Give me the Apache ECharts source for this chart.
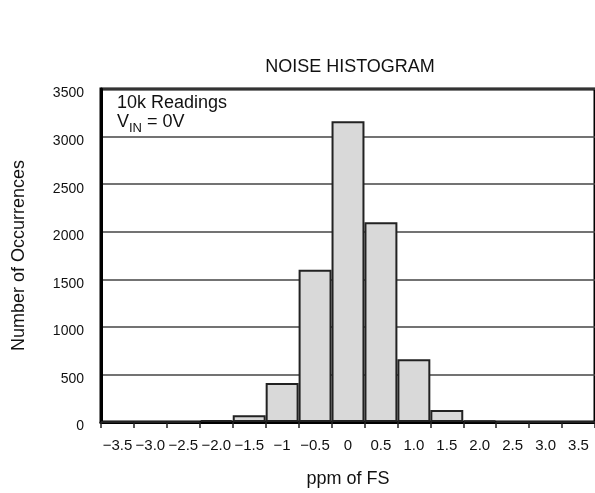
<!DOCTYPE html>
<html>
<head>
<meta charset="utf-8">
<script src="https://cdn.jsdelivr.net/npm/echarts@6/dist/echarts.min.js"></script>
<style>
  html, body { margin: 0; padding: 0; background: #fff; }
  #chart { width: 595px; height: 493px; }
</style>
</head>
<body>
<div id="chart"></div>
<script>
// Histogram bins (ppm of FS), bin centres used as category labels
const binLabels = ['\u22123.5', '\u22123.0', '\u22122.5', '\u22122.0', '\u22121.5', '\u22121', '\u22120.5',
                   '0', '0.5', '1.0', '1.5', '2.0', '2.5', '3.0', '3.5'];
// Number of readings falling in each bin (10k readings total)
const occurrences = [0, 0, 0, 20, 70, 410, 1600, 3160, 2100, 660, 125, 15, 0, 0, 0];
// Y axis ticks
const yMin = 0, yMax = 3500, yStep = 500;

const FONT = 'Liberation Sans, Arial, sans-serif';
const INK = '#111';
const chart = echarts.init(document.getElementById('chart'), null, { renderer: 'canvas' });

chart.setOption({
  animation: false,
  backgroundColor: '#ffffff',
  grid: {
    left: 101, right: -5, top: 89, bottom: 70,
    show: true, borderColor: '#000', borderWidth: 3, backgroundColor: 'transparent'
  },
  xAxis: {
    type: 'category',
    data: binLabels,
    name: 'ppm of FS',
    nameLocation: 'middle',
    nameGap: 48,
    nameTextStyle: { fontFamily: FONT, fontSize: 18, color: INK },
    axisLine: { lineStyle: { color: '#000', width: 3 } },
    axisTick: { show: true, alignWithLabel: false, length: 6, lineStyle: { color: '#222', width: 1.5 } },
    axisLabel: { fontFamily: FONT, fontSize: 15, color: INK, margin: 16, interval: 0 },
    splitLine: { show: false }
  },
  yAxis: {
    type: 'value',
    min: yMin, max: yMax, interval: yStep,
    name: 'Number of Occurrences',
    nameLocation: 'middle',
    nameGap: 73,
    nameRotate: 90,
    nameTextStyle: { fontFamily: FONT, fontSize: 18, color: INK },
    axisLine: { show: true, lineStyle: { color: '#000', width: 3 } },
    axisTick: { show: false },
    axisLabel: {
      fontFamily: FONT, fontSize: 14, color: INK, margin: 17,
      // tick values sit slightly below their grid lines
      verticalAlign: 'top', lineHeight: 9,
      formatter: v => String(v)
    },
    splitLine: { show: true, lineStyle: { color: '#444', width: 1.5 } }
  },
  series: [{
    type: 'bar',
    data: occurrences,
    barCategoryGap: 0,
    itemStyle: { color: '#d9d9d9', borderColor: '#222', borderWidth: 2 }
  }],
  graphic: [
    { // chart title
      type: 'text', x: 350, y: 67,
      style: { text: 'NOISE HISTOGRAM', font: '18px ' + FONT, fill: INK, align: 'center', verticalAlign: 'middle' }
    },
    { // measurement conditions, line 1
      type: 'text', x: 117, y: 103, z: 10,
      style: { text: '10k Readings', font: '18px ' + FONT, fill: INK, align: 'left', verticalAlign: 'middle' }
    },
    { // line 2: V with subscript IN
      type: 'text', x: 117, y: 122, z: 10,
      style: { text: 'V', font: '18px ' + FONT, fill: INK, align: 'left', verticalAlign: 'middle' }
    },
    {
      type: 'text', x: 129, y: 128, z: 10,
      style: { text: 'IN', font: '13px ' + FONT, fill: INK, align: 'left', verticalAlign: 'middle' }
    },
    {
      type: 'text', x: 142, y: 122, z: 10,
      style: { text: ' = 0V', font: '18px ' + FONT, fill: INK, align: 'left', verticalAlign: 'middle' }
    }
  ]
});
</script>
</body>
</html>
